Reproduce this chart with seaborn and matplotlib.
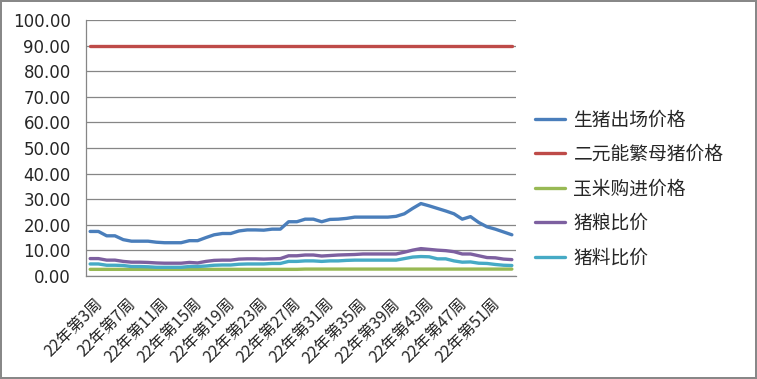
import matplotlib
matplotlib.use("Agg")
import matplotlib.pyplot as plt
import matplotlib.transforms as mtransforms
import seaborn as sns
import pandas as pd
import numpy as np

# week labels: 22年第3周 ... (52 categories)
weeks = [f"22年第{n}周" for n in range(3, 53)] + ["23年第1周", "23年第2周"]

series_names = ["生猪出场价格", "二元能繁母猪价格", "玉米购进价格", "猪粮比价", "猪料比价"]

hog_price = [17.4, 17.4, 15.7, 15.7, 14.2, 13.6, 13.6, 13.6, 13.2, 13.0, 13.0, 13.0, 13.8,
             13.8, 15.0, 16.1, 16.6, 16.6, 17.6, 18.0, 18.0, 17.9, 18.3, 18.3, 21.2, 21.2,
             22.2, 22.2, 21.2, 22.1, 22.2, 22.5, 23.0, 23.0, 23.0, 23.0, 23.0, 23.3, 24.3,
             26.4, 28.3, 27.4, 26.4, 25.4, 24.3, 22.2, 23.2, 20.9, 19.2, 18.3, 17.2, 16.1]
sow_price = [90.0] * 52
corn_price = [2.6] * 26 + [2.7] * 26
pig_grain = [6.8, 6.8, 6.2, 6.2, 5.7, 5.4, 5.4, 5.3, 5.1, 5.0, 5.0, 5.0, 5.3,
             5.1, 5.7, 6.1, 6.2, 6.2, 6.6, 6.7, 6.7, 6.6, 6.7, 6.8, 7.9, 7.9,
             8.2, 8.2, 7.8, 8.0, 8.2, 8.3, 8.4, 8.6, 8.6, 8.6, 8.6, 8.6, 9.3,
             10.1, 10.7, 10.4, 10.1, 9.9, 9.5, 8.6, 8.6, 7.9, 7.2, 7.1, 6.6, 6.4]
pig_feed = [4.7, 4.7, 4.2, 4.2, 4.1, 3.7, 3.7, 3.6, 3.4, 3.4, 3.4, 3.4, 3.7,
            3.7, 3.9, 4.2, 4.3, 4.3, 4.6, 4.7, 4.7, 4.7, 4.9, 4.9, 5.7, 5.7,
            5.9, 5.9, 5.7, 5.9, 5.9, 6.1, 6.2, 6.2, 6.2, 6.2, 6.2, 6.2, 6.8,
            7.4, 7.6, 7.5, 6.7, 6.7, 5.9, 5.4, 5.5, 5.0, 4.9, 4.5, 4.2, 4.1]

colors = ["#4A7EBB", "#BE4B48", "#98B954", "#7D60A0", "#46AAC5"]

frames = []
for name, vals in zip(series_names, [hog_price, sow_price, corn_price, pig_grain, pig_feed]):
    frames.append(pd.DataFrame({"idx": np.arange(len(weeks)), "value": vals, "series": name}))
df = pd.concat(frames, ignore_index=True)

sns.set_style("white")
plt.rcParams["font.family"] = ["Noto Sans CJK SC", "DejaVu Sans"]

fig = plt.figure(figsize=(7.57, 3.79), dpi=100)
fig.patch.set_edgecolor("#888888")
fig.patch.set_linewidth(1.5)
ax = fig.add_axes([86 / 757, 1 - 276 / 379, 430 / 757, 256 / 379])

sns.lineplot(data=df, x="idx", y="value", hue="series", hue_order=series_names,
             palette=colors, linewidth=2.4, sort=False, ax=ax)

ax.set_xlim(-0.5, len(weeks) - 0.5)
ax.set_ylim(0, 100)
ax.set_yticks(np.arange(0, 101, 10))
ax.set_yticklabels([f"{v:.2f}" for v in np.arange(0, 101, 10)], family="DejaVu Sans", fontsize=12)
ax.yaxis.grid(True, color="#868686", linewidth=0.9)
ax.tick_params(axis="y", length=6, width=0.9, color="#868686", pad=5)

ax.set_xticks(np.arange(0, len(weeks), 4))
ax.set_xticklabels(weeks[::4], rotation=45, ha="right", rotation_mode="anchor", fontsize=11.5)
ax.set_xticks(np.arange(-0.5, len(weeks), 1), minor=True)
ax.tick_params(axis="x", which="major", length=0, pad=14)
ax.tick_params(axis="x", which="minor", length=5, width=0.9, color="#868686")
shift = mtransforms.ScaledTranslation(4 / 100, 0, fig.dpi_scale_trans)
for lab in ax.get_xticklabels():
    lab.set_transform(lab.get_transform() + shift)

for s in ["top", "right"]:
    ax.spines[s].set_visible(False)
for s in ["left", "bottom"]:
    ax.spines[s].set_color("#868686")
    ax.spines[s].set_linewidth(0.9)
ax.set_xlabel("")
ax.set_ylabel("")

ax.legend(loc="center left", bbox_to_anchor=(1.005, 0.34), frameon=False, fontsize=13.5,
          handlelength=1.6, handletextpad=0.45, labelspacing=0.72)

fig.savefig("out.png", dpi=100)
